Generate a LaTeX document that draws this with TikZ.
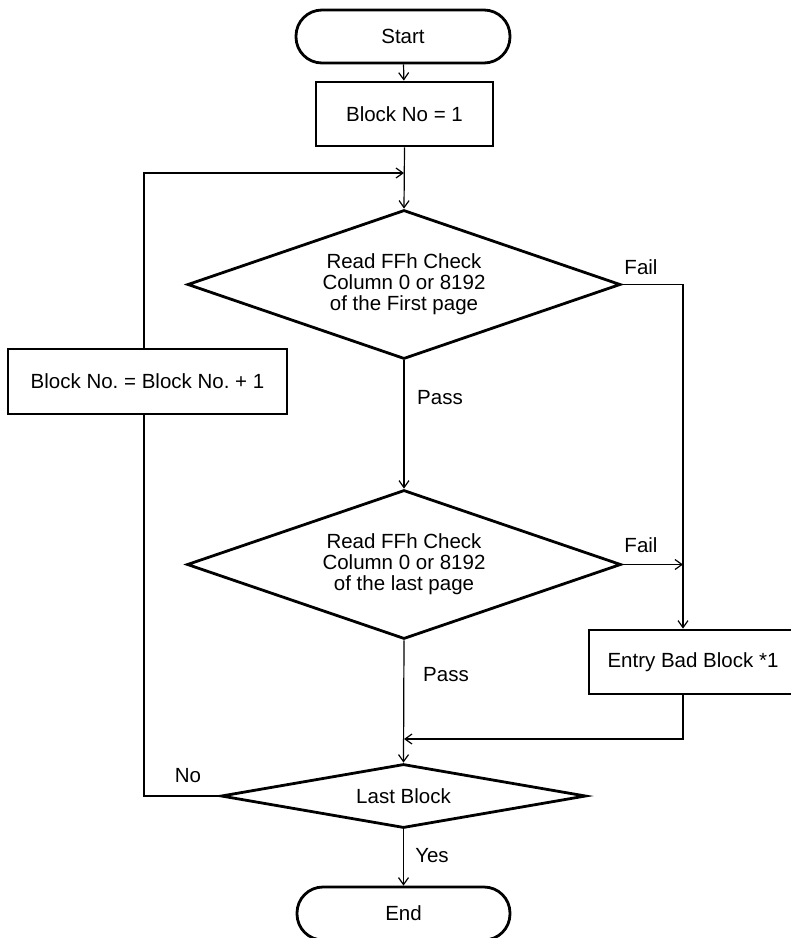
\documentclass[tikz,border=0pt]{standalone}
\usepackage{fontspec}
\setmainfont{Liberation Sans}
\frenchspacing
\usetikzlibrary{shapes.geometric,arrows.meta}
\begin{document}
\begin{tikzpicture}[x=1pt,y=-1pt,
  every node/.style={font=\fontsize{20.5}{21}\selectfont},
  shapebox/.style={draw,line width=2.8pt,inner sep=0pt,align=center},
  procbox/.style={shapebox,rectangle},
  termbox/.style={shapebox,rectangle,rounded corners=26pt},
  decbox/.style={shapebox,diamond},
  conn/.style={line width=1.2pt},
  arr/.style={conn,-{Straight Barb[length=7pt,width=10pt,line width=1.2pt]}},
  lbl/.style={inner sep=0pt}]
\useasboundingbox (0,0) rectangle (791,938);
\clip (0,0) rectangle (791,938);
\node[termbox,minimum width=214pt,minimum height=53pt] (start) at (403,36.5) {Start};
\node[procbox,minimum width=177pt,minimum height=64pt] (b1) at (404.5,114) {Block No = 1};
\node[decbox,aspect=2.9,minimum width=433pt,minimum height=149pt] (d1) at (404,284.5) {Read FFh Check\\Column 0 or 8192\\of the First page};
\node[procbox,minimum width=279pt,minimum height=65pt] (inc) at (147.5,381.5) {Block No. = Block No. + 1};
\node[decbox,aspect=2.9,minimum width=434pt,minimum height=149pt] (d2) at (404,564.5) {Read FFh Check\\Column 0 or 8192\\of the last page};
\node[procbox,minimum width=208pt,minimum height=64pt] (bad) at (693,662) {Entry Bad Block *1};
\node[decbox,aspect=5.7,minimum width=365pt,minimum height=64pt] (d3) at (403.5,796) {Last Block};
\node[termbox,minimum width=213pt,minimum height=53pt] (end) at (403.5,913.5) {End};
\coordinate (xr) at (683,0);
\coordinate (xl) at (144,0);
\coordinate (m1) at (404,173);
\coordinate (m2) at (404,739);
\draw[arr] (start) -- (b1);
\draw[arr] (b1.south) -- (d1.north);
\draw[arr] (inc.north -| xl) |- (m1);
\draw[arr] (d1.south) -- (d2.north);
\draw[arr] (d2.south) -- (d3.north);
\draw[arr] (d3.south) -- (end.north);
\draw[arr] (d1.east) -- (d1.east -| xr) -- (bad.north -| xr);
\draw[arr] (d2.east) -- (d2.east -| xr);
\draw[arr] (bad.south -| xr) |- (m2);
\draw[conn] (d3.west) -- (d3.west -| xl) -- (inc.south -| xl);
\node[lbl] (f1) at (641,267) {Fail};
\node[lbl] (f2) at (641,545) {Fail};
\node[lbl] (p1) at (440,398) {Pass};
\node[lbl] (p2) at (446,675) {Pass};
\node[lbl] (no) at (188,776) {No};
\node[lbl] (yes) at (432,856) {Yes};
\end{tikzpicture}
\end{document}
